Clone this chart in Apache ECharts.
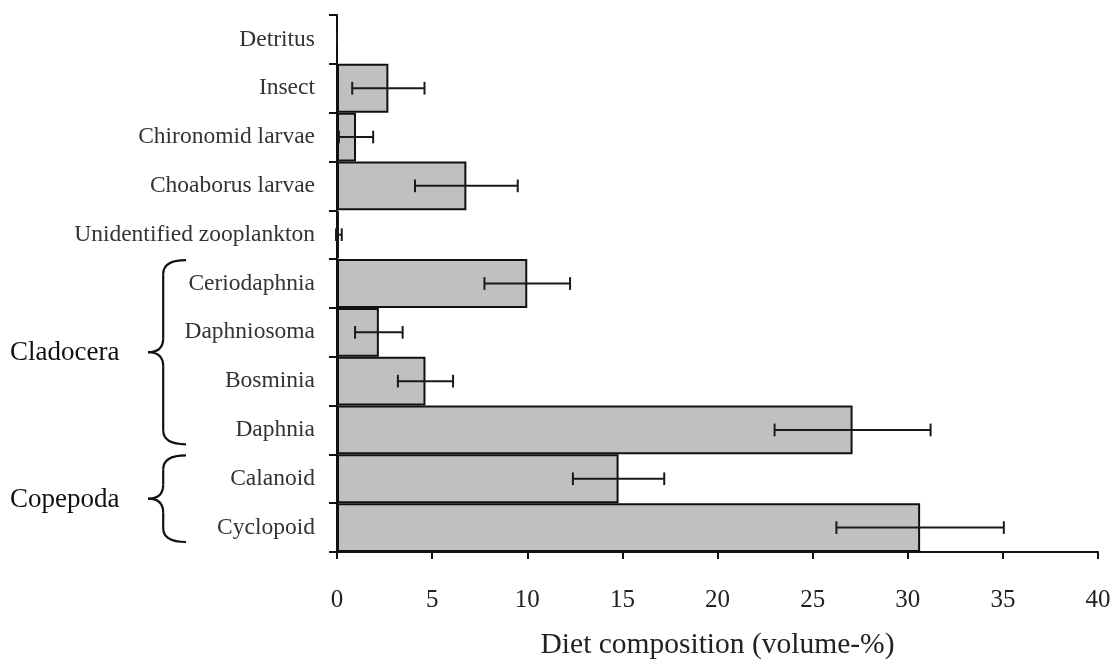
<!DOCTYPE html>
<html>
<head>
<meta charset="utf-8">
<title>Diet composition</title>
<script src="https://cdn.jsdelivr.net/npm/echarts@6/dist/echarts.min.js"></script>
<style>
  html, body { margin: 0; padding: 0; background: #ffffff; }
  #chart { width: 1116px; height: 661px; }
</style>
</head>
<body>
<div id="chart"></div>
<script>
// Prey categories, top to bottom
const categories = [
  'Detritus', 'Insect', 'Chironomid larvae', 'Choaborus larvae',
  'Unidentified zooplankton', 'Ceriodaphnia', 'Daphniosoma', 'Bosminia',
  'Daphnia', 'Calanoid', 'Cyclopoid'
];
// Mean share of diet (volume-%)
const dietValues = [0, 2.7, 1.0, 6.8, 0.1, 10.0, 2.2, 4.65, 27.1, 14.8, 30.65];
// Half-width of the error bars (volume-%)
const dietErrors = [0, 1.9, 0.9, 2.7, 0.15, 2.25, 1.25, 1.45, 4.1, 2.4, 4.4];
// Value axis ticks
const xTicks = [0, 5, 10, 15, 20, 25, 30, 35, 40];
// Taxonomic groups bracketed on the left: [label, first category, last category]
const groups = [
  ['Cladocera', 'Ceriodaphnia', 'Daphnia'],
  ['Copepoda', 'Calanoid', 'Cyclopoid']
];

const serif = '"Liberation Serif", "DejaVu Serif", serif';
const chart = echarts.init(document.getElementById('chart'));

const errorData = dietValues.map((v, i) => [i, v - dietErrors[i], v + dietErrors[i]]);

chart.setOption({
  animation: false,
  backgroundColor: '#ffffff',
  grid: { left: 337, right: 18, top: 15, bottom: 109, containLabel: false, outerBoundsMode: 'none' },
  xAxis: {
    type: 'value',
    min: xTicks[0],
    max: xTicks[xTicks.length - 1],
    interval: xTicks[1] - xTicks[0],
    name: 'Diet composition (volume-%)',
    nameLocation: 'middle',
    nameGap: 78,
    nameTextStyle: { fontFamily: serif, fontSize: 29.5, color: '#222' },
    axisLine: { show: true, lineStyle: { color: '#111', width: 2 } },
    axisTick: { show: true, length: 7, lineStyle: { color: '#111', width: 2 } },
    axisLabel: { fontFamily: serif, fontSize: 25, color: '#222', margin: 36 },
    splitLine: { show: false }
  },
  yAxis: {
    type: 'category',
    data: categories,
    inverse: true,
    axisLine: { show: true, lineStyle: { color: '#111', width: 2 } },
    axisTick: { show: true, alignWithLabel: false, length: 8, lineStyle: { color: '#111', width: 2 } },
    axisLabel: {
      fontFamily: serif, fontSize: 23.5, color: '#333', margin: 22,
      padding: [10, 0, 0, 0]
    },
    splitLine: { show: false }
  },
  series: [
    {
      type: 'bar',
      data: dietValues,
      barCategoryGap: '0%',
      itemStyle: { color: '#c0c0c0', borderColor: '#111', borderWidth: 2 },
      z: 2
    },
    {
      type: 'custom',
      data: errorData,
      z: 3,
      renderItem: function (params, api) {
        const cat = api.value(0);
        const lo = api.coord([api.value(1), cat]);
        const hi = api.coord([api.value(2), cat]);
        const cap = api.size([0, 1])[1] * 0.13;
        const style = { stroke: '#1a1a1a', lineWidth: 2 };
        return {
          type: 'group',
          children: [
            { type: 'line', shape: { x1: lo[0], y1: lo[1], x2: hi[0], y2: hi[1] }, style },
            { type: 'line', shape: { x1: lo[0], y1: lo[1] - cap, x2: lo[0], y2: lo[1] + cap }, style },
            { type: 'line', shape: { x1: hi[0], y1: hi[1] - cap, x2: hi[0], y2: hi[1] + cap }, style }
          ]
        };
      }
    }
  ]
});

// Curly brace opening to the right, tip pointing left, built from curves and lines
function braceChildren(xr, y1, y2, w) {
  const xm = xr - w * 0.6;
  const xt = xr - w;
  const ym = (y1 + y2) / 2;
  const r = Math.min(14, (y2 - y1) / 5);
  const style = { fill: null, stroke: '#111', lineWidth: 2.2 };
  return [
    { type: 'bezierCurve', shape: { x1: xr, y1: y1, cpx1: xm, cpy1: y1, x2: xm, y2: y1 + r }, style },
    { type: 'line', shape: { x1: xm, y1: y1 + r, x2: xm, y2: ym - r }, style },
    { type: 'bezierCurve', shape: { x1: xm, y1: ym - r, cpx1: xm, cpy1: ym, x2: xt, y2: ym }, style },
    { type: 'bezierCurve', shape: { x1: xt, y1: ym, cpx1: xm, cpy1: ym, x2: xm, y2: ym + r }, style },
    { type: 'line', shape: { x1: xm, y1: ym + r, x2: xm, y2: y2 - r }, style },
    { type: 'bezierCurve', shape: { x1: xm, y1: y2 - r, cpx1: xm, cpy1: y2, x2: xr, y2: y2 }, style }
  ];
}

function drawGroups() {
  const band = chart.convertToPixel({ yAxisIndex: 0 }, categories[1]) -
               chart.convertToPixel({ yAxisIndex: 0 }, categories[0]);
  const elements = [];
  groups.forEach(function (g) {
    const yTop = chart.convertToPixel({ yAxisIndex: 0 }, g[1]) - band / 2 + 1;
    const yBot = chart.convertToPixel({ yAxisIndex: 0 }, g[2]) + band / 2 - 10;
    const yMid = (yTop + yBot) / 2;
    elements.push({
      type: 'group',
      children: braceChildren(186, yTop, yBot, 38)
    });
    elements.push({
      type: 'text',
      x: 10,
      y: yMid + 1,
      style: {
        text: g[0],
        fontFamily: serif,
        fontSize: 27,
        fill: '#111',
        align: 'left',
        verticalAlign: 'middle'
      }
    });
  });
  chart.setOption({ graphic: { elements: elements } });
}
drawGroups();
</script>
</body>
</html>
